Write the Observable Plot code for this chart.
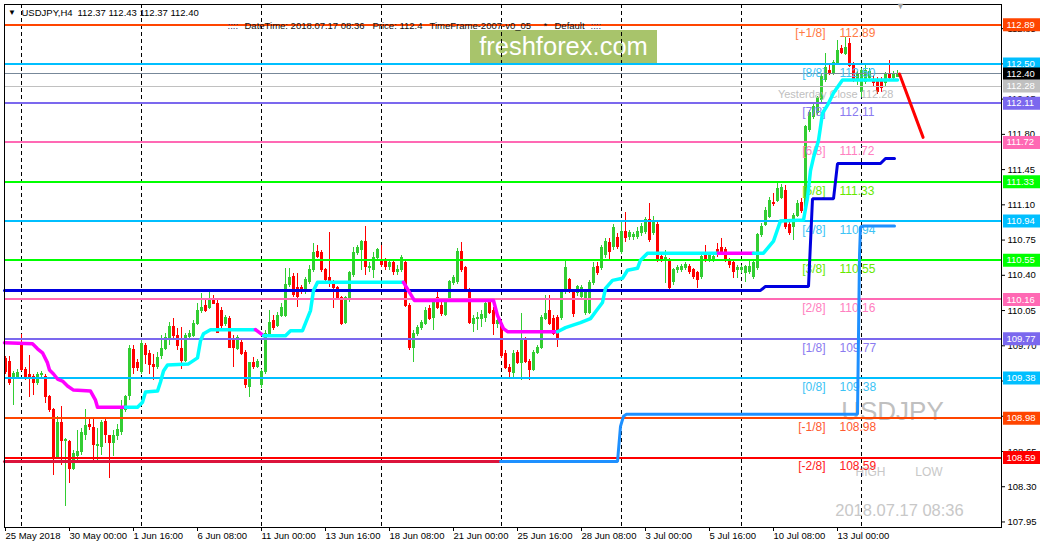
<!DOCTYPE html>
<html><head><meta charset="utf-8">
<script src="https://cdn.jsdelivr.net/npm/d3@7"></script>
<script src="https://cdn.jsdelivr.net/npm/@observablehq/plot@0.6"></script>
<style>
body{margin:0;background:#fff;}
#wrap{position:relative;width:1043px;height:550px;overflow:hidden;background:#fff;}
#wrap svg{position:absolute;left:0;top:0;}
#logo{position:absolute;left:470px;top:30px;width:187px;height:33px;background:#a8c46b;color:#fff;font:25.5px "Liberation Sans",Arial,sans-serif;line-height:32px;text-align:center;}
</style></head><body><div id="wrap"><div id="logo">freshforex.com</div></div>
<script>
// ---------- DATA ----------
const opens = [109.57,109.54,109.37,109.39,109.70,109.46,109.41,109.39,109.33,109.41,109.39,109.19,109.06,108.58,108.93,108.75,108.74,108.48,108.61,108.64,108.81,108.91,108.88,108.70,108.69,108.94,108.80,108.73,108.80,108.84,109.06,109.20,109.66,109.53,109.44,109.70,109.62,109.51,109.49,109.60,109.67,109.78,109.89,109.80,109.67,109.55,109.79,109.80,109.92,110.05,110.10,110.08,110.15,110.12,110.05,109.92,109.97,109.77,109.67,109.73,109.63,109.29,109.53,109.49,109.31,109.44,109.82,109.95,109.90,110.00,110.00,110.30,110.38,110.27,110.27,110.23,110.33,110.45,110.63,110.62,110.45,110.37,110.32,110.27,110.17,109.93,110.15,110.40,110.62,110.65,110.73,110.47,110.45,110.57,110.55,110.53,110.48,110.52,110.43,110.45,110.52,110.10,109.68,109.82,109.88,109.92,110.07,109.98,110.17,110.10,110.01,110.15,110.32,110.33,110.63,110.47,110.25,109.92,109.97,109.97,109.98,110.15,110.05,109.92,109.92,109.62,109.48,109.43,109.63,109.53,109.75,109.54,109.46,109.63,109.68,109.97,110.05,109.97,109.98,109.98,110.23,110.35,110.22,110.22,110.18,110.03,110.03,110.32,110.48,110.47,110.60,110.72,110.68,110.77,110.63,110.83,110.78,110.78,110.78,110.82,110.83,110.95,110.82,110.90,110.58,110.56,110.55,110.33,110.45,110.45,110.47,110.48,110.45,110.42,110.38,110.60,110.55,110.55,110.65,110.67,110.65,110.55,110.52,110.45,110.45,110.42,110.43,110.38,110.47,110.80,110.90,110.98,111.12,111.14,111.17,111.24,110.90,110.88,110.99,111.12,111.04,111.84,111.97,112.01,112.14,112.34,112.43,112.40,112.51,112.65,112.60,112.70,112.48,112.34,112.22,112.32,112.36,112.34,112.32,112.32,112.31,112.40,112.36,112.37];
const highs = [109.59,109.59,109.44,109.46,109.81,109.48,109.60,109.41,109.43,109.44,109.41,109.21,109.08,109.00,109.10,108.78,108.76,108.66,108.86,108.88,109.07,108.98,108.98,108.88,108.96,108.98,108.81,108.86,108.92,109.16,109.21,109.70,109.70,109.56,109.75,109.72,109.65,109.61,109.63,109.80,109.82,109.93,109.97,109.87,109.88,109.82,109.85,109.95,110.12,110.22,110.15,110.23,110.20,110.15,110.08,110.00,109.99,109.80,109.80,109.75,109.65,109.53,109.58,109.56,109.46,109.85,110.05,110.00,110.03,110.12,110.47,110.47,110.42,110.42,110.30,110.38,110.50,110.72,110.70,110.65,110.47,110.83,110.35,110.29,110.19,110.19,110.44,110.68,110.70,110.75,110.88,110.53,110.63,110.67,110.70,110.57,110.55,110.55,110.50,110.60,110.55,110.12,109.85,109.90,109.95,110.08,110.10,110.17,110.23,110.13,110.17,110.35,110.40,110.67,110.73,110.49,110.27,110.00,110.03,110.05,110.15,110.17,110.08,109.97,109.95,109.65,109.51,109.65,109.65,110.02,109.78,109.56,109.65,109.70,110.00,110.20,110.20,110.00,110.00,110.25,110.55,110.37,110.25,110.30,110.30,110.25,110.35,110.53,110.53,110.70,110.77,110.77,110.90,110.82,110.92,111.02,110.85,110.83,110.87,110.91,110.97,111.11,110.98,110.93,110.60,110.65,110.57,110.47,110.50,110.51,110.53,110.51,110.47,110.44,110.60,110.70,110.63,110.61,110.72,110.77,110.68,110.57,110.54,110.50,110.50,110.50,110.55,110.54,110.82,110.91,111.07,111.17,111.21,111.31,111.30,111.29,110.92,111.01,111.14,111.16,111.89,112.04,112.10,112.18,112.39,112.60,112.48,112.53,112.73,112.68,112.76,112.75,112.51,112.42,112.45,112.48,112.45,112.38,112.36,112.36,112.41,112.53,112.42,112.43];
const lows = [109.41,109.31,109.11,109.38,109.44,109.36,109.19,109.21,109.31,109.38,109.13,109.04,108.41,108.57,108.51,108.10,108.33,108.46,108.56,108.61,108.76,108.86,108.56,108.53,108.61,108.73,108.38,108.60,108.76,108.81,109.04,109.16,109.41,109.44,109.41,109.51,109.41,109.36,109.46,109.56,109.65,109.70,109.75,109.65,109.46,109.53,109.75,109.78,109.90,110.02,110.03,110.06,110.11,109.83,109.87,109.89,109.67,109.48,109.65,109.60,109.28,109.19,109.46,109.47,109.28,109.41,109.80,109.85,109.88,109.98,109.98,110.28,110.18,110.08,110.21,110.21,110.31,110.43,110.57,110.43,110.33,110.28,110.07,110.15,109.90,109.91,110.13,110.38,110.60,110.45,110.40,110.43,110.37,110.55,110.48,110.45,110.45,110.40,110.40,110.43,110.08,109.65,109.53,109.79,109.85,109.90,109.95,109.85,110.06,109.99,109.99,110.13,110.30,110.31,110.43,110.23,109.91,109.83,109.85,109.88,109.93,110.01,109.80,109.87,109.57,109.46,109.38,109.38,109.51,109.36,109.52,109.36,109.44,109.61,109.66,109.95,109.90,109.80,109.68,109.95,110.21,110.22,109.98,110.19,110.15,110.00,110.01,110.30,110.40,110.45,110.57,110.55,110.65,110.66,110.61,110.73,110.75,110.75,110.76,110.79,110.81,110.73,110.80,110.53,110.53,110.32,110.25,110.30,110.42,110.43,110.45,110.41,110.36,110.27,110.36,110.53,110.53,110.53,110.58,110.61,110.53,110.47,110.37,110.37,110.42,110.33,110.41,110.36,110.45,110.78,110.88,110.96,111.08,111.12,111.15,110.86,110.80,110.75,110.97,111.01,111.02,111.82,111.95,111.99,112.12,112.32,112.38,112.38,112.49,112.59,112.58,112.46,112.32,112.29,112.17,112.30,112.34,112.28,112.20,112.22,112.28,112.34,112.34,112.37];
const closes = [109.44,109.33,109.42,109.43,109.46,109.39,109.38,109.33,109.41,109.42,109.19,109.06,108.58,108.93,108.75,108.76,108.48,108.63,108.64,108.83,108.90,108.89,108.71,108.71,108.93,108.81,108.73,108.80,108.86,109.06,109.19,109.67,109.48,109.48,109.72,109.61,109.51,109.49,109.58,109.67,109.78,109.89,109.80,109.70,109.55,109.80,109.82,109.92,110.05,110.08,110.05,110.15,110.12,109.83,109.90,109.98,109.68,109.68,109.78,109.62,109.31,109.53,109.49,109.54,109.44,109.82,109.93,109.88,110.00,110.08,110.30,110.37,110.20,110.18,110.23,110.35,110.45,110.62,110.58,110.45,110.35,110.32,110.27,110.17,109.92,110.17,110.42,110.62,110.67,110.73,110.48,110.48,110.57,110.65,110.50,110.48,110.52,110.43,110.45,110.57,110.10,109.68,109.82,109.88,109.93,110.05,109.97,110.15,110.08,110.02,110.15,110.33,110.37,110.63,110.45,110.25,109.93,109.97,109.98,110.01,110.12,110.03,109.92,109.95,109.60,109.48,109.44,109.62,109.53,109.75,109.54,109.46,109.63,109.68,109.98,110.02,109.92,109.82,109.77,110.23,110.47,110.25,110.02,110.28,110.27,110.22,110.32,110.47,110.42,110.67,110.73,110.63,110.87,110.68,110.83,110.77,110.82,110.80,110.83,110.88,110.95,110.75,110.92,110.55,110.55,110.57,110.27,110.45,110.47,110.48,110.50,110.43,110.38,110.35,110.58,110.55,110.60,110.58,110.60,110.63,110.55,110.50,110.43,110.47,110.47,110.48,110.48,110.52,110.80,110.88,111.04,111.14,111.11,111.26,111.27,110.88,110.82,110.99,111.11,111.04,111.87,112.01,112.07,112.16,112.37,112.46,112.40,112.51,112.63,112.61,112.66,112.48,112.34,112.39,112.43,112.43,112.42,112.31,112.22,112.26,112.39,112.36,112.39,112.40];

// Murrey Math levels
const mmLabels = ["[+1/8]","[8/8]","[7/8]","[6/8]","[5/8]","[4/8]","[3/8]","[2/8]","[1/8]","[0/8]","[-1/8]","[-2/8]"];
const mmPrices = [112.89,112.50,112.11,111.72,111.33,110.94,110.55,110.16,109.77,109.38,108.98,108.59];
const bidPrice = 112.40;
const yesterdayClose = 112.28;

// trend stop line (dn = magenta, up = cyan)
const stopBars   = [-0.25,6.75,8,9.25,10.5,11,12,13,14.25,15.5,17,21.25,22.5,23,30, 30,33,34.25,35,38,38.75,39.5,40.5,45.75,48,48.75,49.5,51.25,62.5, 62.5,64.5, 64.5,70,71.25,74.25,76.25,77,78,99.5, 99.5,101.75,102.25,122,123,124.5,125.5,138, 138,140,143.75,146.25,147.75,149.25,150,151.75,154.25,155.5,158,158.75,160.5,178.25, 178.25,187, 187,189.5,192,193.75,199.5,200.5,201.25,202,203.25,204.25,205.5,207,209.25,223];
const stopPrices = [109.73,109.72,109.67,109.63,109.53,109.46,109.42,109.37,109.35,109.30,109.26,109.25,109.16,109.09,109.09, 109.09,109.09,109.14,109.24,109.25,109.34,109.45,109.51,109.52,109.58,109.75,109.82,109.86,109.86, 109.86,109.80, 109.80,109.80,109.85,109.85,110.05,110.25,110.33,110.33, 110.33,110.18,110.15,110.15,110.00,109.87,109.84,109.84, 109.84,109.88,109.93,109.97,110.05,110.13,110.27,110.35,110.37,110.45,110.47,110.55,110.62,110.62, 110.62,110.62, 110.62,110.62,110.74,110.94,110.95,111.17,111.44,111.57,111.74,112.01,112.09,112.21,112.34,112.34];
const stopSegs   = ["dn1","dn1","dn1","dn1","dn1","dn1","dn1","dn1","dn1","dn1","dn1","dn1","dn1","dn1","dn1","up1","up1","up1","up1","up1","up1","up1","up1","up1","up1","up1","up1","up1","up1","dn2","dn2","up2","up2","up2","up2","up2","up2","up2","up2","dn3","dn3","dn3","dn3","dn3","dn3","dn3","dn3","up3","up3","up3","up3","up3","up3","up3","up3","up3","up3","up3","up3","up3","up3","dn4","dn4","up4","up4","up4","up4","up4","up4","up4","up4","up4","up4","up4","up4","up4","up4"];

// resistance step line (dark blue)
const resBars   = [-0.25,188.75,190,200.75,201.75,207,208,218.75,220,222.25];
const resPrices = [110.25,110.25,110.29,110.29,111.16,111.16,111.51,111.51,111.56,111.56];

// support step line (crimson older part, dodger blue newer part)
const supBars   = [-0.25,123.75, 123.75,153,153.75,154.5,155.25,213,213.5,213.75,214.5,222.25];
const supPrices = [108.55,108.55, 108.55,108.55,108.90,109.00,109.02,109.02,110.60,110.88,110.89,110.89];
const supSegs   = ["old","old","new","new","new","new","new","new","new","new","new","new"];

// projection arrow
const arrowBars = [223.5, 229.4];
const arrowPrices = [112.40, 111.77];

// axes
const yTicks = [107.95,108.30,108.65,109.00,109.35,109.70,110.05,110.40,110.75,111.10,111.45,111.80,112.15,112.50,112.85];
const xTickBars = [0,16,32,48,64,80,96,112,128,144,160,176,192,208];
const xTickLabels = ["25 May 2018","30 May 00:00","1 Jun 16:00","6 Jun 08:00","11 Jun 00:00","13 Jun 16:00","18 Jun 08:00","21 Jun 00:00","25 Jun 16:00","28 Jun 08:00","3 Jul 00:00","5 Jul 16:00","10 Jul 08:00","13 Jul 00:00"];
const gridBars = [4,34,64,94,124,154,184,214];

// right-hand price tags
const tagPrices = [112.89,112.50,112.40,112.28,112.11,111.72,111.33,110.94,110.55,110.16,109.77,109.38,108.98,108.59];
const tagKinds  = ["[+1/8]","[8/8]","bid","yclose","[7/8]","[6/8]","[5/8]","[4/8]","[3/8]","[2/8]","[1/8]","[0/8]","[-1/8]","[-2/8]"];

// ---------- STYLE ----------
const levelColor = {"[+1/8]":"#FF4500","[8/8]":"#00BFFF","[7/8]":"#7B68EE","[6/8]":"#FF69B4","[5/8]":"#00FF00","[4/8]":"#00BFFF","[3/8]":"#00FF00","[2/8]":"#FF69B4","[1/8]":"#7B68EE","[0/8]":"#00BFFF","[-1/8]":"#FF4500","[-2/8]":"#FF0000","bid":"#000000","yclose":"#C0C0C0"};
const textColor = {"[+1/8]":"#FF7A45","[8/8]":"#3CC3F5","[7/8]":"#8A7AF0","[6/8]":"#FF80C0","[5/8]":"#66E800","[4/8]":"#3CC3F5","[3/8]":"#66E800","[2/8]":"#FF80C0","[1/8]":"#8A7AF0","[0/8]":"#3CC3F5","[-1/8]":"#FF5A30","[-2/8]":"#FF2020"};
const UP = "#32CD32", DOWN = "#FF0000";
const FONT = '"Liberation Sans", Arial, sans-serif';

// ---------- BUILD ----------
const candles = opens.map((o, i) => ({i, o, h: highs[i], l: lows[i], c: closes[i]}));
const upC = candles.filter(d => d.c >= d.o);
const dnC = candles.filter(d => d.c < d.o);
const levels = mmLabels.map((label, k) => ({label, price: mmPrices[k]}));
const stopPts = stopBars.map((b, k) => ({b, p: stopPrices[k], seg: stopSegs[k]}));
const resPts = resBars.map((b, k) => ({b, p: resPrices[k]}));
const supPts = supBars.map((b, k) => ({b, p: supPrices[k], seg: supSegs[k]}));
const arrowPts = arrowBars.map((b, k) => ({b, p: arrowPrices[k]}));
const tags = tagPrices.map((price, k) => ({price, kind: tagKinds[k]}));
const tickLabel = new Map(xTickBars.map((b, k) => [b, xTickLabels[k]]));
const boxSymbol = {draw(ctx) { ctx.moveTo(-18.5,-6.5); ctx.lineTo(18.5,-6.5); ctx.lineTo(18.5,6.5); ctx.lineTo(-18.5,6.5); ctx.closePath(); }};
const label = (s, dx, dy, size, fill, anchor = "start") =>
  Plot.text([s], {text: d => d, frameAnchor: "top-left", lineAnchor: "middle", dx, dy, textAnchor: anchor, fontSize: size, fill});

const chart = Plot.plot({
  width: 1043, height: 550,
  marginTop: 4, marginRight: 42, marginBottom: 23, marginLeft: 4,
  x: {type: "linear", domain: [-0.25, 249], axis: null},
  y: {domain: [107.895, 113.09], axis: null},
  color: {type: "identity"},
  style: {fontFamily: FONT, fontSize: "9.5px", background: "transparent", color: "black", overflow: "visible"},
  marks: [
    // grid
    Plot.ruleX(gridBars, {x: d => d, stroke: "black", strokeDasharray: "4,3", shapeRendering: "crispEdges"}),
    // watermark texts
    label("USDJPY", 888, 407, 26, "#C0C0C0", "middle"),
    label("HIGH", 866, 468, 12, "#C8C8C8", "middle"),
    label("LOW", 924.5, 468, 12, "#C8C8C8", "middle"),
    label("2018.07.17 08:36", 895, 506, 16.5, "#C8C8C8", "middle"),
    // candles
    Plot.ruleX(upC, {x: "i", y1: "l", y2: "h", stroke: UP, shapeRendering: "crispEdges"}),
    Plot.ruleX(dnC, {x: "i", y1: "l", y2: "h", stroke: DOWN, shapeRendering: "crispEdges"}),
    Plot.rect(upC, {x1: d => d.i - 0.375, x2: d => d.i + 0.375, y1: "o", y2: "c", fill: UP, insetTop: -0.5, insetBottom: -0.5, shapeRendering: "crispEdges"}),
    Plot.rect(dnC, {x1: d => d.i - 0.375, x2: d => d.i + 0.375, y1: "o", y2: "c", fill: DOWN, insetTop: -0.5, insetBottom: -0.5, shapeRendering: "crispEdges"}),
    // Murrey levels
    Plot.ruleY(levels, {y: "price", stroke: d => levelColor[d.label], strokeWidth: 2, shapeRendering: "crispEdges"}),
    Plot.ruleY([bidPrice], {y: d => d, stroke: "#778899", strokeWidth: 1, shapeRendering: "crispEdges"}),
    Plot.ruleY([yesterdayClose], {y: d => d, stroke: "#C0C0C0", strokeWidth: 1, shapeRendering: "crispEdges"}),
    Plot.text([yesterdayClose], {x: () => 222, y: d => d, text: d => "Yesterday Close " + d.toFixed(2), textAnchor: "end", dy: 8, fontSize: 11, fill: "#C0C0C0"}),
    Plot.text(levels, {x: () => 205, y: "price", text: "label", textAnchor: "end", dy: 9, fontSize: 12, fill: d => textColor[d.label]}),
    Plot.text(levels, {x: () => 208.5, y: "price", text: d => d.price.toFixed(2), textAnchor: "start", dy: 9, fontSize: 12, fill: d => textColor[d.label]}),
    // support / resistance step lines
    Plot.line(supPts, {x: "b", y: "p", z: "seg", stroke: d => d.seg === "old" ? "#DC143C" : "#1E90FF", strokeWidth: 3, strokeLinejoin: "miter"}),
    Plot.line(resPts, {x: "b", y: "p", stroke: "#0000E0", strokeWidth: 3, strokeLinejoin: "miter"}),
    // trend stop
    Plot.line(stopPts, {x: "b", y: "p", z: "seg", stroke: d => d.seg.startsWith("dn") ? "#FF00FF" : "#00FFFF", strokeWidth: 3.5}),
    // projection arrow
    Plot.line(arrowPts, {x: "b", y: "p", stroke: "#FF0000", strokeWidth: 3}),
    // axes
    Plot.axisY(yTicks, {anchor: "right", tickSize: 3, tickPadding: 3, tickFormat: d => d.toFixed(2), label: null, fontSize: 9.5}),
    Plot.axisX(xTickBars, {anchor: "bottom", tickSize: 4, tickPadding: 1, tickFormat: d => tickLabel.get(d), textAnchor: "start", label: null, fontSize: 9.5}),
    Plot.frame({stroke: "black"}),
    // price tags on the right axis
    Plot.dot(tags, {y: "price", frameAnchor: "right", dx: 20, symbol: boxSymbol, r: 5, fill: d => levelColor[d.kind], stroke: null}),
    Plot.text(tags, {y: "price", frameAnchor: "right", dx: 5, text: d => d.price.toFixed(2), textAnchor: "start", fill: "white", fontSize: 9.5}),
    // header
    label("▼", 7.5, 7.5, 8, "black", "middle"),
    label("USDJPY,H4", 17, 8.5, 9.5, "black"),
    Plot.text([[112.37,112.43,112.37,112.40]], {text: d => d.map(v => v.toFixed(2)).join(" "), frameAnchor: "top-left", lineAnchor: "middle", dx: 73, dy: 8.5, textAnchor: "start", fontSize: 9.5, fill: "black"}),
    label("::::", 223, 21.5, 9.5, "#2a2a60"),
    label("DateTime: 2018.07.17 08:36", 240, 21.5, 9.5, "#111"),
    label("Price: 112.4", 368, 21.5, 9.5, "#111"),
    label("TimeFrame-2007-v0_05", 425, 21.5, 9.5, "#111"),
    label("*", 539, 21.5, 9.5, "#111"),
    label("Default", 550, 21.5, 9.5, "#111"),
    label("::::", 586, 21.5, 9.5, "#2a2a60"),
    label("▼", 896, 2, 9, "#A0A0A0", "middle")
  ]
});
const wrap = document.getElementById("wrap");
wrap.appendChild(chart);
</script>
</body></html>
